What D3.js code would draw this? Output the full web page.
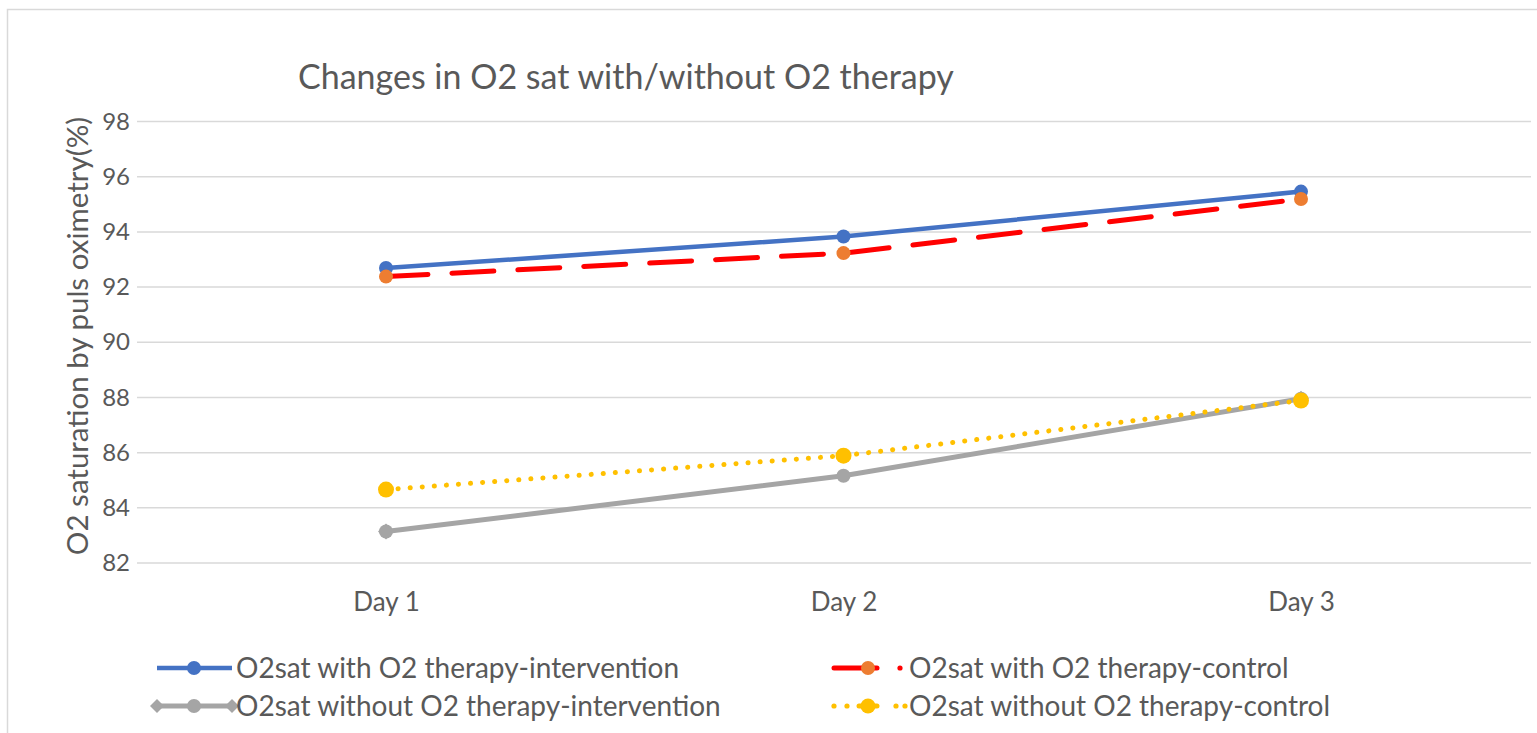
<!DOCTYPE html>
<html><head><meta charset="utf-8">
<script src="https://cdn.jsdelivr.net/npm/d3@7/dist/d3.min.js"></script>
<style>
html,body{margin:0;padding:0;background:#fff;overflow:hidden}
text{font-family:Lato,"Open Sans",sans-serif;fill:#595959}
</style></head>
<body>
<svg id="c" width="1537" height="733"></svg>
<script>
const days = ["Day 1","Day 2","Day 3"];
const withO2Intervention = [92.69, 93.83, 95.46];
const withO2Control = [92.38, 93.23, 95.19];
const withoutO2Intervention = [83.14, 85.16, 87.95];
const withoutO2Control = [84.66, 85.89, 87.89];
const yTicks = [82,84,86,88,90,92,94,96,98];
const seriesNames = ["O2sat with O2 therapy-intervention","O2sat with O2 therapy-control","O2sat without O2 therapy-intervention","O2sat without O2 therapy-control"];

const svg = d3.select("#c");
svg.append("rect").attr("x",7.5).attr("y",9.5).attr("width",1700).attr("height",900)
  .attr("fill","none").attr("stroke","#d9d9d9").attr("stroke-width",1.5);

const x = d3.scalePoint().domain(days).range([386,1301]);
const y = d3.scaleLinear().domain([82,98]).range([563,121.5]);
const gx0 = 137, gx1 = 1531;

// gridlines
svg.append("g").selectAll("line").data(yTicks).join("line")
  .attr("x1",gx0).attr("x2",gx1).attr("y1",d=>y(d)).attr("y2",d=>y(d))
  .attr("stroke","#d9d9d9").attr("stroke-width",1.5);

// y axis labels
const ya = svg.append("g").attr("transform",`translate(${gx0-7},0)`)
  .call(d3.axisLeft(y).tickValues(yTicks).tickSize(0).tickPadding(0));
ya.select(".domain").remove();
ya.selectAll("text").attr("font-size",24).attr("font-family","Lato").attr("fill","#595959");

// x axis labels
const xa = svg.append("g").attr("transform",`translate(0,593)`)
  .call(d3.axisBottom(x).tickSize(0).tickPadding(0));
xa.select(".domain").remove();
xa.selectAll("text").attr("font-size",26).attr("font-family","Lato").attr("fill","#595959");

// title
svg.append("text").attr("x",298).attr("y",89).attr("font-size",34).text("Changes in O2 sat with/without O2 therapy");
// y title
svg.append("text").attr("transform","translate(88,336) rotate(-90)").attr("text-anchor","middle")
  .attr("font-size",29.5).text("O2 saturation by puls oximetry(%)");

const line = d3.line().x((d,i)=>x(days[i])).y(d=>y(d));
const diamondPath = h => `M0,${-h}L${h},0L0,${h}L${-h},0Z`;

// gray
svg.append("path").datum(withoutO2Intervention).attr("d",line).attr("fill","none")
  .attr("stroke","#a5a5a5").attr("stroke-width",5);
svg.append("g").selectAll("circle").data(withoutO2Intervention).join("circle")
  .attr("cx",(d,i)=>x(days[i])).attr("cy",d=>y(d)).attr("r",7).attr("fill","#a5a5a5");
[0,2].forEach(i=>{
  svg.append("path").attr("d",diamondPath(8)).attr("fill","#a5a5a5")
    .attr("transform",`translate(${x(days[i])},${y(withoutO2Intervention[i])})`);
});

// yellow dotted
svg.append("path").datum(withoutO2Control).attr("d",line).attr("fill","none")
  .attr("stroke","#ffc000").attr("stroke-width",5).attr("stroke-linecap","round").attr("stroke-dasharray","0.1 12");
svg.append("g").selectAll("circle").data(withoutO2Control).join("circle")
  .attr("cx",(d,i)=>x(days[i])).attr("cy",d=>y(d)).attr("r",8).attr("fill","#ffc000");

// blue
svg.append("path").datum(withO2Intervention).attr("d",line).attr("fill","none")
  .attr("stroke","#4472c4").attr("stroke-width",4.5);
svg.append("g").selectAll("circle").data(withO2Intervention).join("circle")
  .attr("cx",(d,i)=>x(days[i])).attr("cy",d=>y(d)).attr("r",7).attr("fill","#4472c4");

// red dashed
svg.append("path").datum(withO2Control).attr("d",line).attr("fill","none")
  .attr("stroke","#ff0000").attr("stroke-width",5).attr("stroke-linecap","round").attr("stroke-dasharray","42 24");
svg.append("g").selectAll("circle").data(withO2Control).join("circle")
  .attr("cx",(d,i)=>x(days[i])).attr("cy",d=>y(d)).attr("r",7).attr("fill","#ed7d31");

// legend
const lg = svg.append("g");
function legText(xp,yp,t){ lg.append("text").attr("x",xp).attr("y",yp).attr("dy","0.35em").attr("font-size",28).text(t); }
// row1 left: blue
lg.append("line").attr("x1",157).attr("x2",232).attr("y1",668).attr("y2",668).attr("stroke","#4472c4").attr("stroke-width",4.5);
lg.append("circle").attr("cx",194).attr("cy",668).attr("r",7).attr("fill","#4472c4");
legText(236,668,seriesNames[0]);
// row2 left: gray
lg.append("line").attr("x1",157).attr("x2",232).attr("y1",706).attr("y2",706).attr("stroke","#a5a5a5").attr("stroke-width",5);
lg.append("circle").attr("cx",194).attr("cy",706).attr("r",7).attr("fill","#a5a5a5");
[157,232].forEach(px=>lg.append("path").attr("d",diamondPath(7)).attr("fill","#a5a5a5").attr("transform",`translate(${px},706)`));
legText(236,706,seriesNames[2]);
// row1 right: red
lg.append("line").attr("x1",834).attr("x2",877).attr("y1",668).attr("y2",668).attr("stroke","#ff0000").attr("stroke-width",5).attr("stroke-linecap","round");
lg.append("circle").attr("cx",900).attr("cy",668).attr("r",2.6).attr("fill","#ff0000");
lg.append("circle").attr("cx",868).attr("cy",668).attr("r",7).attr("fill","#ed7d31");
legText(909,668,seriesNames[1]);
// row2 right: yellow
[834,847,896,905].forEach(px=>lg.append("circle").attr("cx",px).attr("cy",706).attr("r",2.6).attr("fill","#ffc000"));
lg.append("line").attr("x1",859).attr("x2",877).attr("y1",706).attr("y2",706).attr("stroke","#ffc000").attr("stroke-width",5).attr("stroke-linecap","round");
lg.append("circle").attr("cx",868).attr("cy",706).attr("r",7.5).attr("fill","#ffc000");
legText(909,706,seriesNames[3]);
</script>
</body></html>
